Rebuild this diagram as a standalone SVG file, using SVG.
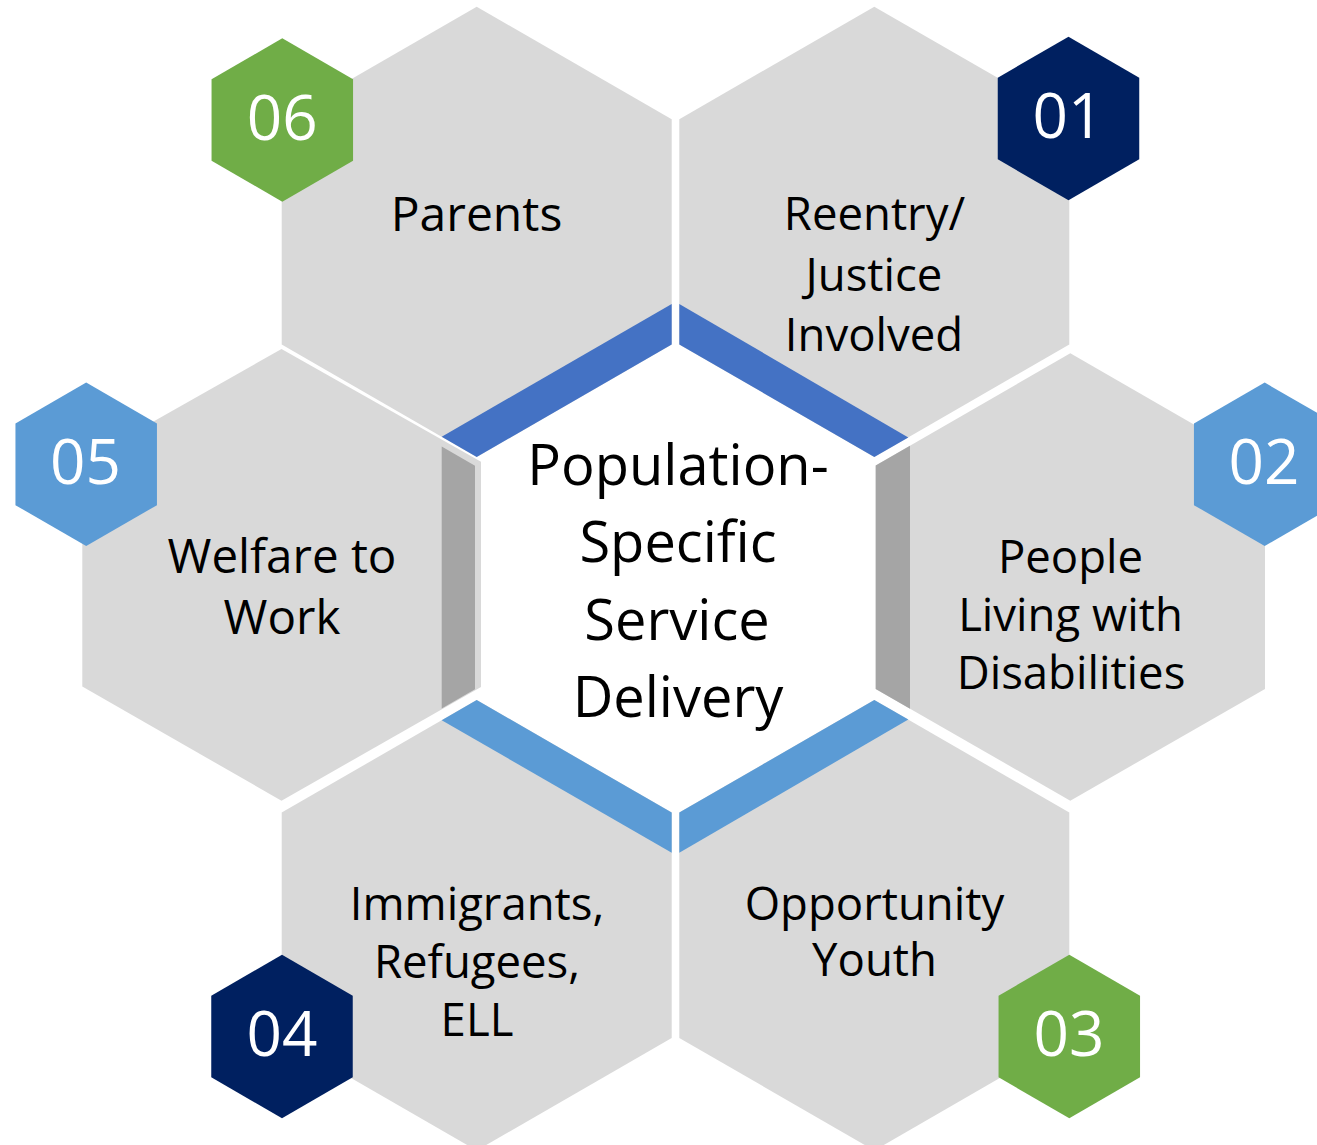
<svg xmlns="http://www.w3.org/2000/svg" width="1317" height="1145" viewBox="0 0 1317 1145">
<style>
.hex{fill:#D9D9D9}
.lbl{font-family:"Open Sans","Liberation Sans",sans-serif;font-size:45.5px;fill:#000000;text-anchor:middle}
.ctr{font-family:"Open Sans","Liberation Sans",sans-serif;font-size:56px;fill:#000000;text-anchor:middle}
.num{font-family:"Open Sans","Liberation Sans",sans-serif;font-size:62px;fill:#FFFFFF;text-anchor:middle}
.navy{fill:#002060}
.green{fill:#70AD47}
.lblue{fill:#5B9BD5}
.blue{fill:#4472C4}
.dgray{fill:#A5A5A5}
</style>
<defs>
<polygon id="badge" points="0,-81.7 70.75,-40.85 70.75,40.85 0,81.7 -70.75,40.85 -70.75,-40.85"/>
</defs>
<rect width="1317" height="1145" fill="#FFFFFF"/>

<g id="node-parents">
<polygon class="hex" points="476.7,6.7 671.7,119.2 671.7,344.5 476.7,457 281.7,344.5 281.7,119.2"/>
<use href="#badge" class="green" transform="translate(282.3,120)"/>
<text class="num" x="282.3" y="139.5">06</text>
<text class="lbl" x="476.5" y="231" style="font-size:48px">Parents</text>
</g>

<g id="node-reentry">
<polygon class="hex" points="874.3,6.7 1069.3,119.2 1069.3,344.5 874.3,457 679.3,344.5 679.3,119.2"/>
<use href="#badge" class="navy" transform="translate(1068.5,118.5)"/>
<text class="num" x="1068" y="138">01</text>
<text class="lbl" x="874.5" y="230">Reentry/</text>
<text class="lbl" x="874" y="290.5">Justice</text>
<text class="lbl" x="874" y="351">Involved</text>
</g>

<g id="node-people">
<polygon class="hex" points="1070.3,353.3 1265,465.5 1265,689 1070.3,800.7 875.7,689 875.7,465.5"/>
<use href="#badge" class="lblue" transform="translate(1264.7,464.3)"/>
<text class="num" x="1264" y="484">02</text>
<text class="lbl" x="1070.5" y="573">People</text>
<text class="lbl" x="1070.5" y="631">Living with</text>
<text class="lbl" x="1071" y="689">Disabilities</text>
</g>

<g id="node-opportunity">
<polygon class="hex" points="874.3,700 1069.3,812.6 1069.3,1038 874.3,1150.5 679.3,1038 679.3,812.6"/>
<use href="#badge" class="green" transform="translate(1069.3,1036.5)"/>
<text class="num" x="1069" y="1056">03</text>
<text class="lbl" x="874.5" y="919.5">Opportunity</text>
<text class="lbl" x="874.5" y="976">Youth</text>
</g>

<g id="node-immigrants">
<polygon class="hex" points="476.7,700 671.7,812.6 671.7,1038 476.7,1150.5 281.7,1038 281.7,812.6"/>
<use href="#badge" class="navy" transform="translate(282,1036.5)"/>
<text class="num" x="282" y="1056">04</text>
<text class="lbl" x="477" y="920">Immigrants,</text>
<text class="lbl" x="477" y="978">Refugees,</text>
<text class="lbl" x="477" y="1036">ELL</text>
</g>

<g id="node-welfare">
<polygon class="hex" points="281.5,349 481,461.8 481,687 281.5,800.7 82.3,686.5 82.3,461.8"/>
<use href="#badge" class="lblue" transform="translate(86.2,464.3)"/>
<text class="num" x="85.5" y="484">05</text>
<text class="lbl" x="282" y="573" style="font-size:47.5px">Welfare to</text>
<text class="lbl" x="282" y="633.5" style="font-size:47.5px">Work</text>
</g>

<g id="node-center">
<polygon fill="#FFFFFF" points="675.5,352 870,463 870,686 675.5,804 482,694 482,463"/>
<text class="ctr" x="678" y="485">Population-</text>
<text class="ctr" x="678" y="562">Specific</text>
<text class="ctr" x="677" y="639.5">Service</text>
<text class="ctr" x="678" y="716.7">Delivery</text>
</g>

<g id="connectors">
<polygon class="blue" points="441.7,436.8 671.7,304 671.7,344.5 476.7,457"/>
<polygon class="blue" points="679.3,304 908.3,437.4 874.3,457 679.3,344.5"/>
<polygon class="dgray" points="875.7,465.5 910,445.7 910,708.8 875.7,689"/>
<polygon class="lblue" points="679.3,852.7 679.3,812.6 874.3,700 908.3,719.6"/>
<polygon class="lblue" points="441.7,720.3 476.7,700 671.7,812.6 671.7,852.7"/>
<polygon class="dgray" points="441.7,446.5 475,465.7 475,689.3 441.7,708.5"/>
</g>
</svg>
